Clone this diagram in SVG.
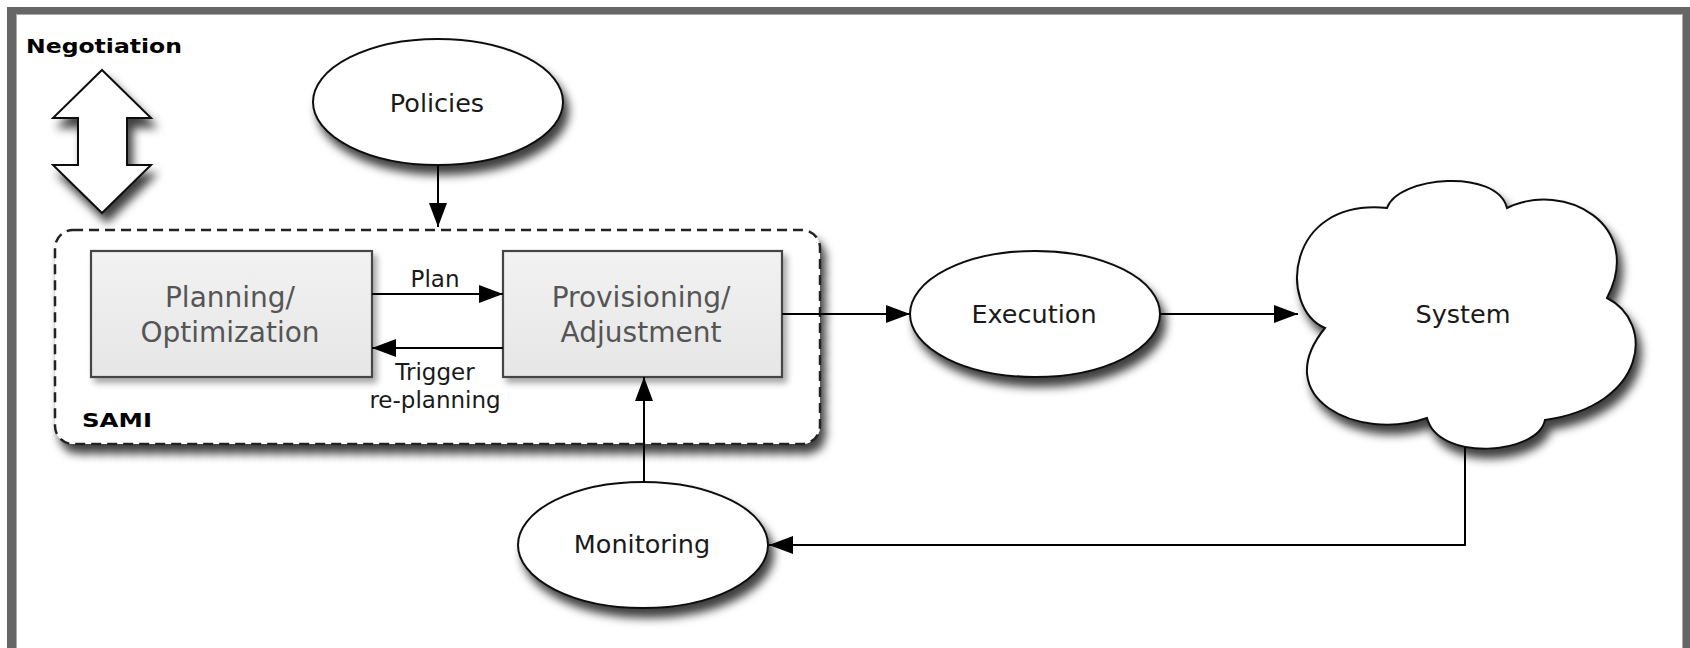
<svg xmlns="http://www.w3.org/2000/svg" width="1690" height="648" viewBox="0 0 1690 648">
<defs>
<style>
.node-e{fill:#fff;stroke:#111;stroke-width:2}
.box{fill:url(#boxg);stroke:#444;stroke-width:2.2}
.t{font-family:"DejaVu Sans",Verdana,sans-serif;fill:#1a1a1a;text-anchor:middle}
.et{font-size:25.5px}
.bt{font-size:28px;fill:#555}
.lt{font-size:23px}
.bold{font-family:"DejaVu Sans",Verdana,sans-serif;font-weight:bold;fill:#000}
.conn{fill:none;stroke:#000;stroke-width:2}
</style>
<linearGradient id="boxg" x1="0" y1="0" x2="0" y2="1">
<stop offset="0" stop-color="#f2f2f2"/>
<stop offset="1" stop-color="#e6e6e6"/>
</linearGradient>
<filter id="sh" x="-20%" y="-20%" width="150%" height="160%">
<feDropShadow dx="5" dy="9" stdDeviation="5" flood-color="#000" flood-opacity="0.75"/>
</filter>
<filter id="shs" x="-20%" y="-20%" width="150%" height="160%">
<feDropShadow dx="4" dy="5" stdDeviation="3" flood-color="#000" flood-opacity="0.35"/>
</filter>
<marker id="ah" markerUnits="userSpaceOnUse" markerWidth="24" markerHeight="18" refX="24" refY="9" orient="auto">
<path d="M0,0 L24,9 L0,18 Z" fill="#000"/>
</marker>
</defs>
<rect width="1690" height="648" fill="#fff"/>
<g id="frame">
<rect x="7" y="7" width="9" height="641" fill="#666"/>
<rect x="7" y="7" width="1683" height="7" fill="#666"/>
<rect x="1683" y="7" width="7" height="641" fill="#666"/>
<line x1="16.5" y1="15" x2="16.5" y2="648" stroke="#aaa" stroke-width="1"/>
<line x1="16" y1="14.5" x2="1683" y2="14.5" stroke="#aaa" stroke-width="1"/>
<line x1="1682.5" y1="15" x2="1682.5" y2="648" stroke="#aaa" stroke-width="1"/>
</g>
<g id="negotiation">
<text class="bold" x="26" y="53" font-size="20" textLength="156" lengthAdjust="spacingAndGlyphs">Negotiation</text>
<polygon points="102,70 151,118 127,118 127,165 151,165 102,213 53,165 78,165 78,118 53,118" fill="#fff" stroke="#111" stroke-width="2" filter="url(#sh)"/>
</g>
<g id="sami">
<rect x="55" y="230" width="765" height="214" rx="18" fill="#fff" stroke="#222" stroke-width="2.5" stroke-dasharray="10 6" filter="url(#sh)"/>
<text class="bold" x="82" y="427" font-size="20" textLength="70" lengthAdjust="spacingAndGlyphs">SAMI</text>
</g>
<g id="planning">
<rect class="box" x="91" y="251" width="281" height="126" filter="url(#shs)"/>
<text class="t bt" x="230" y="307">Planning/</text>
<text class="t bt" x="230" y="342">Optimization</text>
</g>
<g id="provisioning">
<rect class="box" x="503" y="251" width="279" height="126" filter="url(#shs)"/>
<text class="t bt" x="641" y="307">Provisioning/</text>
<text class="t bt" x="641" y="342">Adjustment</text>
</g>
<g id="policies">
<ellipse class="node-e" cx="438" cy="102" rx="125" ry="63" filter="url(#sh)"/>
<text class="t et" x="437" y="112">Policies</text>
</g>
<g id="execution">
<ellipse class="node-e" cx="1035" cy="314" rx="125" ry="63" filter="url(#sh)"/>
<text class="t et" x="1034" y="323">Execution</text>
</g>
<g id="monitoring">
<ellipse class="node-e" cx="643" cy="545" rx="125" ry="63" filter="url(#sh)"/>
<text class="t et" x="642" y="553">Monitoring</text>
</g>
<g id="system">
<path class="node-e" filter="url(#sh)" d="M1387 208 C1398 176,1497 168,1507 208 C1565 180,1645 225,1607 298 C1655 322,1648 405,1545 420 C1538 455,1438 462,1427 418 C1358 442,1268 398,1325 328 C1278 308,1285 198,1387 208 Z"/>
<text class="t et" x="1463" y="323">System</text>
</g>
<g id="connectors">
<path class="conn" d="M438 165 L438 227" marker-end="url(#ah)"/>
<path class="conn" d="M372 294 L503 294" marker-end="url(#ah)"/>
<path class="conn" d="M503 348 L372 348" marker-end="url(#ah)"/>
<path class="conn" d="M782 314 L910 314" marker-end="url(#ah)"/>
<path class="conn" d="M1160 314 L1298 314" marker-end="url(#ah)"/>
<path class="conn" d="M1465 447 L1465 545 L769 545" marker-end="url(#ah)"/>
<path class="conn" d="M644 482 L644 377" marker-end="url(#ah)"/>
<text class="t lt" x="435" y="287">Plan</text>
<text class="t lt" x="435" y="380">Trigger</text>
<text class="t lt" x="435" y="408">re-planning</text>
</g>
</svg>
